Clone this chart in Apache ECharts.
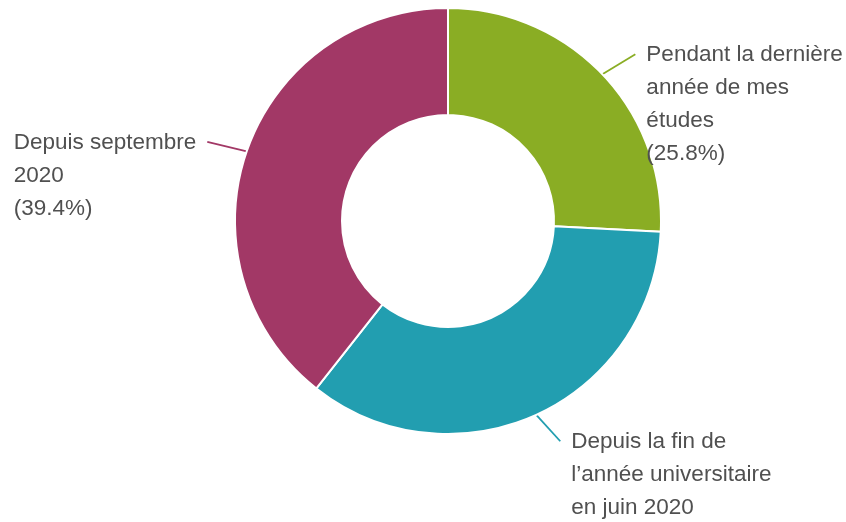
<!DOCTYPE html>
<html>
<head>
<meta charset="utf-8">
<script src="https://cdn.jsdelivr.net/npm/echarts@6/dist/echarts.min.js"></script>
<style>
html,body{margin:0;padding:0;background:#fff;}
#chart{width:846px;height:522px;}
</style>
</head>
<body>
<div id="chart"></div>
<script>
const categories = [
  'Pendant la dernière\nannée de mes\nétudes',
  'Depuis la fin de\nl\u2019année universitaire\nen juin 2020',
  'Depuis septembre\n2020'
];
const values = [25.8, 34.8, 39.4];
const colors = ['#8aad24', '#229eb0', '#a23866'];

const CX = 448, CY = 221, LH = 33, DIST = 11;

const chart = echarts.init(document.getElementById('chart'), null, {renderer: 'canvas'});
chart.setOption({
  animation: false,
  series: [{
    type: 'pie',
    center: [CX, CY],
    radius: [106, 213],
    startAngle: 90,
    clockwise: true,
    avoidLabelOverlap: false,
    itemStyle: {borderColor: '#fff', borderWidth: 2},
    label: {
      show: true,
      formatter: p => p.name + '\n(' + p.value.toFixed(1) + '%)',
      fontFamily: '"Liberation Sans", Arial, sans-serif',
      fontSize: 22.5,
      lineHeight: LH,
      color: '#505050',
      distanceToLabelLine: DIST
    },
    labelLine: {
      show: true,
      length: 29,
      length2: 12,
      lineStyle: {width: 1.8}
    },
    emphasis: {disabled: true},
    labelLayout: function (params) {
      const pts = params.labelLinePoints;
      if (!pts) return {};
      const p0 = pts[0], p2 = pts[pts.length - 1];
      const right = p2[0] >= p0[0];
      return {
        x: right ? p2[0] + DIST : p2[0] - DIST - params.labelRect.width,
        y: p2[1] - LH / 2 + 1,
        align: 'left',
        verticalAlign: 'top',
        labelLinePoints: [p0, p2]
      };
    },
    data: categories.map((c, i) => ({name: c, value: values[i], itemStyle: {color: colors[i]}}))
  }]
});
</script>
</body>
</html>
